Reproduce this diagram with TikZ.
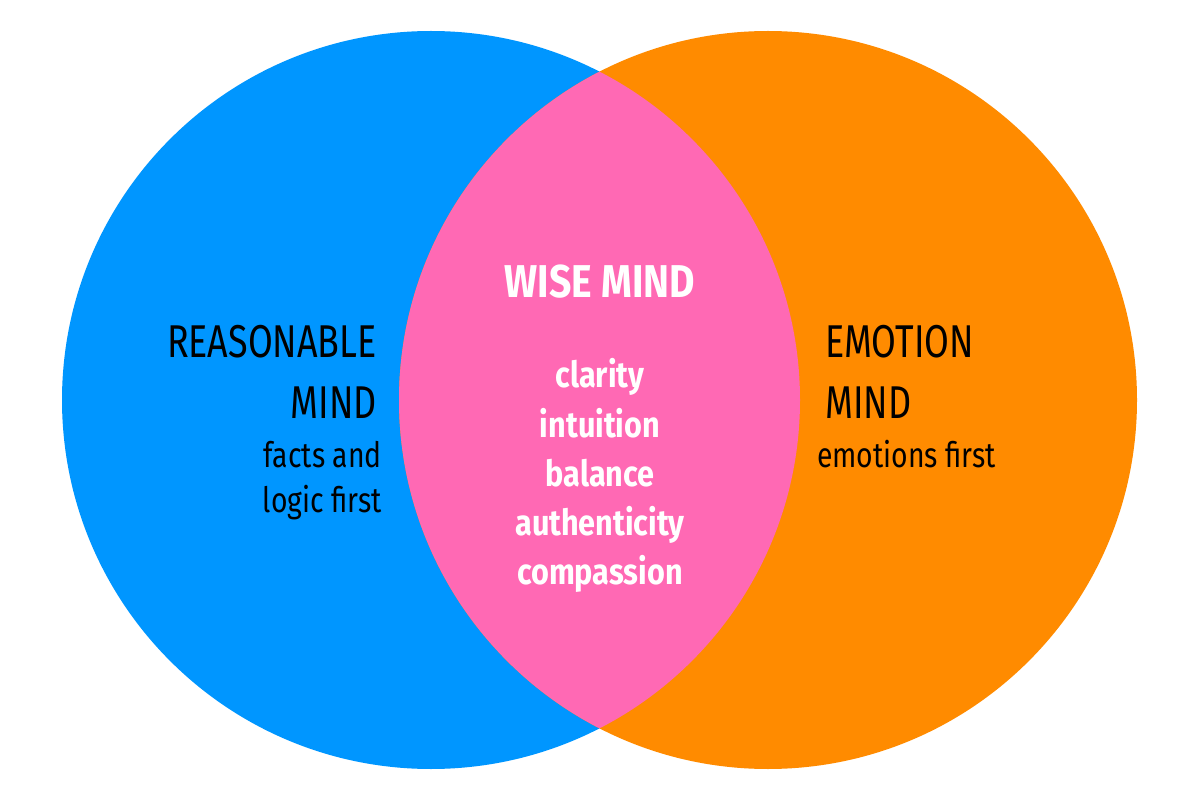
\documentclass[tikz,border=0pt]{standalone}
\usepackage{fontspec}
\setmainfont{Fira Sans}[FakeStretch=0.78]
\newfontfamily\notefont{Fira Sans}[FakeStretch=0.81]
\newfontfamily\wisefont{Fira Sans}[FakeStretch=0.85]
\definecolor{reasonblue}{RGB}{0,150,255}
\definecolor{emoorange}{RGB}{255,139,0}
\definecolor{wisepink}{RGB}{255,105,180}
\begin{document}
\begin{tikzpicture}[x=1pt, y=-1pt,
  ring/.style = {circle, minimum size=738pt, inner sep=0pt},
  head/.style = {font=\fontsize{46}{46}\selectfont, inner sep=0pt},
  note/.style = {font=\notefont\fontsize{35}{35}\selectfont, inner sep=0pt},
  wise/.style = {font=\wisefont\fontsize{36}{36}\selectfont\bfseries, text=white, inner sep=0pt}]
\useasboundingbox (0,0) rectangle (1200,802);
% the two minds
\node[ring, fill=reasonblue] (reason) at (431,400) {};
\node[ring, fill=emoorange] (emotion) at (768,400) {};
% overlap
\begin{scope}
\clip (reason.center) circle (369pt);
\fill[wisepink] (emotion.center) circle (369pt);
\end{scope}
% left
\node[head, anchor=base east] (rtitle) at (377,358) {REASONABLE};
\node[head, anchor=base east] (rmind) at (377,418) {MIND};
\node[note, anchor=base east] (rfacts) at (382,467) {facts and};
\node[note, anchor=base east] (rlogic) at (382,512) {logic first};
% right
\node[head, anchor=base west] (etitle) at (825,358) {EMOTION};
\node[head, anchor=base west] (emind) at (825,418) {MIND};
\node[note, anchor=base west] (efirst) at (817,467) {emotions first};
% middle
\node[wise, font=\wisefont\fontsize{46}{46}\selectfont\bfseries, anchor=base] (wtitle) at (600,298) {WISE MIND};
\node[wise, anchor=base] (w1) at (600,388) {clarity};
\node[wise, anchor=base] (w2) at (600,437) {intuition};
\node[wise, anchor=base] (w3) at (600,486) {balance};
\node[wise, anchor=base] (w4) at (600,535) {authenticity};
\node[wise, anchor=base] (w5) at (600,584) {compassion};
\end{tikzpicture}
\end{document}
